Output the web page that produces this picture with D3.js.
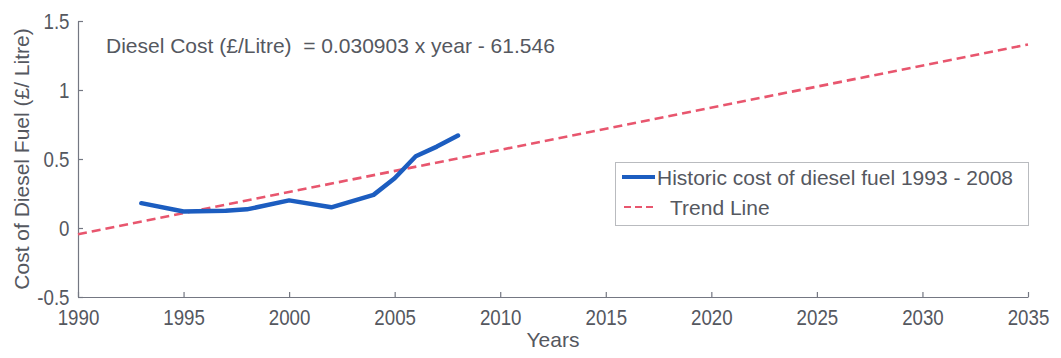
<!DOCTYPE html>
<html>
<head>
<meta charset="utf-8">
<script src="https://cdn.jsdelivr.net/npm/d3@7/dist/d3.min.js"></script>
<style>
  html, body { margin: 0; padding: 0; background: #ffffff; }
  svg { display: block; }
  text { font-family: Arial, "Liberation Sans", Helvetica, sans-serif; fill: #55585f; white-space: pre; }
</style>
</head>
<body>
<div id="chart"></div>
<script>
// ---- data ----
const histYears  = [1993, 1995, 1997, 1998, 2000, 2002, 2004, 2005, 2006, 2007, 2008];
const histCost   = [0.18, 0.12, 0.125, 0.135, 0.20, 0.15, 0.24, 0.36, 0.52, 0.59, 0.67];
const trendYears = [1990, 2035];
const trendCost  = [-0.045, 1.33];
const xTicks = [1990, 1995, 2000, 2005, 2010, 2015, 2020, 2025, 2030, 2035];
const yTicks = [-0.5, 0, 0.5, 1, 1.5];
const yTickLabels = ["-0.5", "0", "0.5", "1", "1.5"];
const legendLabels = ["Historic cost of diesel fuel 1993 - 2008", "Trend Line"];
const equationText = "Diesel Cost (£/Litre)  = 0.030903 x year - 61.546";
const xTitle = "Years";
const yTitle = "Cost of Diesel Fuel (£/ Litre)";

const W = 1061, H = 358;
const margin = {left: 78, right: 33, top: 21, bottom: 61};
const axisColor = "#747782";
const textColor = "#585b63";
const blue = "#1c5dc0";
const red = "#e8566e";

const svg = d3.select("#chart").append("svg").attr("width", W).attr("height", H);

const x = d3.scaleLinear().domain([1990, 2035]).range([margin.left, W - margin.right]);
const y = d3.scaleLinear().domain([-0.5, 1.5]).range([H - margin.bottom, margin.top]);

// axes
const xAxis = d3.axisBottom(x).tickValues(xTicks).tickFormat(d3.format("d"))
  .tickSizeInner(-5).tickSizeOuter(0).tickPadding(10);
const yAxis = d3.axisLeft(y).tickValues(yTicks).tickFormat((d, i) => yTickLabels[i])
  .tickSizeInner(-5).tickSizeOuter(0).tickPadding(10);

const gx = svg.append("g").attr("transform", `translate(0,${H - margin.bottom})`).call(xAxis);
const gy = svg.append("g").attr("transform", `translate(${margin.left},0)`).call(yAxis);
[gx, gy].forEach(g => {
  g.select(".domain").attr("stroke", axisColor).attr("stroke-width", 1.2);
  g.selectAll(".tick line").attr("stroke", axisColor).attr("stroke-width", 1.2);
  g.selectAll(".tick text").attr("fill", textColor)
    .style("font-family", "Arial, 'Liberation Sans', sans-serif")
    .style("font-size", "22px");
});
gx.selectAll(".tick text").attr("dy", "0.8em").attr("transform", "scale(0.85,1)");
gy.selectAll(".tick text").attr("transform", "scale(0.85,1)");

// trend line
const line = d3.line().x(d => x(d[0])).y(d => y(d[1]));
svg.append("path")
  .datum(trendYears.map((yr, i) => [yr, trendCost[i]]))
  .attr("d", line).attr("fill", "none")
  .attr("stroke", red).attr("stroke-width", 2.6).attr("stroke-dasharray", "9,5");

// historic line
svg.append("path")
  .datum(histYears.map((yr, i) => [yr, histCost[i]]))
  .attr("d", line).attr("fill", "none")
  .attr("stroke", blue).attr("stroke-width", 4.5).attr("stroke-linejoin", "round").attr("stroke-linecap", "round");

// equation
svg.append("text").attr("x", 106).attr("y", 53).attr("xml:space", "preserve")
  .style("font-size", "21px").attr("fill", textColor).text(equationText);

// axis titles
svg.append("text").attr("x", (x.range()[0] + x.range()[1]) / 2).attr("y", 347)
  .attr("text-anchor", "middle").style("font-size", "21px").attr("fill", textColor).text(xTitle);
svg.append("text").attr("transform", `translate(29,${y(0.5)}) rotate(-90)`)
  .attr("text-anchor", "middle").style("font-size", "21px").attr("fill", textColor).text(yTitle);

// legend
const lg = svg.append("g");
lg.append("rect").attr("x", 615.5).attr("y", 162.5).attr("width", 413).attr("height", 63)
  .attr("fill", "#ffffff").attr("stroke", "#b9bbbf").attr("stroke-width", 1);
lg.append("line").attr("x1", 622).attr("x2", 655).attr("y1", 177).attr("y2", 177)
  .attr("stroke", blue).attr("stroke-width", 4);
lg.append("line").attr("x1", 624).attr("x2", 654).attr("y1", 207).attr("y2", 207)
  .attr("stroke", red).attr("stroke-width", 2).attr("stroke-dasharray", "7,4");
lg.append("text").attr("x", 657).attr("y", 185).style("font-size", "21px").attr("fill", textColor).text(legendLabels[0]);
lg.append("text").attr("x", 670).attr("y", 215).style("font-size", "21px").attr("fill", textColor).text(legendLabels[1]);
</script>
</body>
</html>
